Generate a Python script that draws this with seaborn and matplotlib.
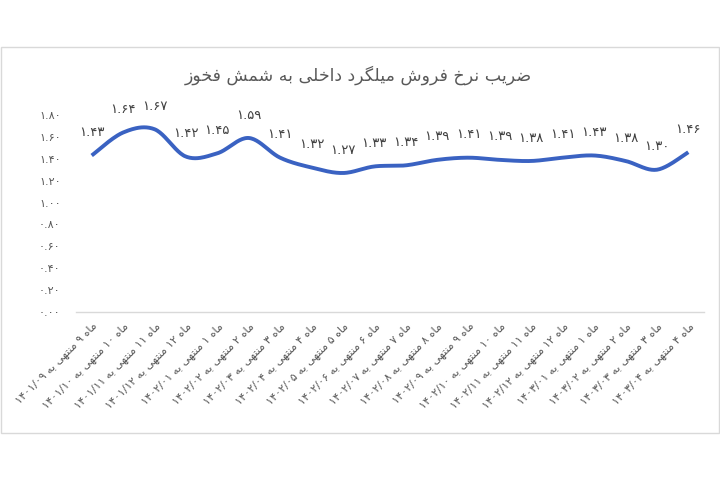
import numpy as np
import pandas as pd
import matplotlib
matplotlib.use("Agg")
import matplotlib.pyplot as plt
import seaborn as sns
from matplotlib.patches import Rectangle

# ---------------- data ----------------
title = "ضریب نرخ فروش میلگرد داخلی به شمش فخوز"
months = [9, 10, 11, 12, 1, 2, 3, 4, 5, 6, 7, 8, 9, 10, 11, 12, 1, 2, 3, 4]
dates = ["1401/09", "1401/10", "1401/11", "1401/12", "1402/01", "1402/02",
         "1402/03", "1402/04", "1402/05", "1402/06", "1402/07", "1402/08",
         "1402/09", "1402/10", "1402/11", "1402/12", "1403/01", "1403/02",
         "1403/03", "1403/04"]
values = [1.43, 1.64, 1.67, 1.42, 1.45, 1.59, 1.41, 1.32, 1.27, 1.33,
          1.34, 1.39, 1.41, 1.39, 1.38, 1.41, 1.43, 1.38, 1.30, 1.46]
yticks = [0.0, 0.2, 0.4, 0.6, 0.8, 1.0, 1.2, 1.4, 1.6, 1.8]

# ---------------- simple Persian shaping ----------------
FA_DIG = str.maketrans("0123456789", "۰۱۲۳۴۵۶۷۸۹")
FORMS = {
    '\u0627': ('\uFE8D', '\uFE8E', None, None),
    '\u0628': ('\uFE8F', '\uFE90', '\uFE91', '\uFE92'),
    '\u062A': ('\uFE95', '\uFE96', '\uFE97', '\uFE98'),
    '\u062E': ('\uFEA5', '\uFEA6', '\uFEA7', '\uFEA8'),
    '\u062F': ('\uFEA9', '\uFEAA', None, None),
    '\u0631': ('\uFEAD', '\uFEAE', None, None),
    '\u0632': ('\uFEAF', '\uFEB0', None, None),
    '\u0634': ('\uFEB5', '\uFEB6', '\uFEB7', '\uFEB8'),
    '\u0636': ('\uFEBD', '\uFEBE', '\uFEBF', '\uFEC0'),
    '\u0641': ('\uFED1', '\uFED2', '\uFED3', '\uFED4'),
    '\u0644': ('\uFEDD', '\uFEDE', '\uFEDF', '\uFEE0'),
    '\u0645': ('\uFEE1', '\uFEE2', '\uFEE3', '\uFEE4'),
    '\u0646': ('\uFEE5', '\uFEE6', '\uFEE7', '\uFEE8'),
    '\u0647': ('\uFEE9', '\uFEEA', '\uFEEB', '\uFEEC'),
    '\u0648': ('\uFEED', '\uFEEE', None, None),
    '\u06CC': ('\uFBFC', '\uFBFD', '\uFBFE', '\uFBFF'),
    '\u06AF': ('\uFB92', '\uFB93', '\uFB94', '\uFB95'),
}


def shape_word(w):
    out = []
    n = len(w)
    for i, c in enumerate(w):
        if c not in FORMS:
            out.append(c)
            continue
        iso, fin, ini, med = FORMS[c]
        prev = w[i - 1] if i > 0 else None
        nxt = w[i + 1] if i < n - 1 else None
        jp = prev in FORMS and FORMS[prev][2] is not None
        jn = nxt in FORMS and ini is not None
        if jp and jn:
            f = med
        elif jp:
            f = fin
        elif jn:
            f = ini
        else:
            f = iso
        out.append(f)
    return ''.join(reversed(out))


def fa(text):
    toks = text.split(' ')
    vis = []
    for t in toks:
        if any(ch in FORMS for ch in t):
            vis.append(shape_word(t))
        else:
            vis.append(t.translate(FA_DIG))
    return ' '.join(reversed(vis))


def fnum(v):
    return f"{v:.2f}".translate(FA_DIG)


labels = [fa(f"ماه {m} منتهی به {d}") for m, d in zip(months, dates)]

# ---------------- smooth curve (Excel-like) ----------------
x = np.arange(len(values), dtype=float)
y = np.array(values, dtype=float)
xs, ys = [], []
for i in range(len(x) - 1):
    p0 = np.array([x[i - 1] if i > 0 else x[i], y[i - 1] if i > 0 else y[i]])
    p1 = np.array([x[i], y[i]])
    p2 = np.array([x[i + 1], y[i + 1]])
    p3 = np.array([x[i + 2], y[i + 2]]) if i + 2 < len(x) else p2
    c1 = p1 + (p2 - p0) / 6.0
    c2 = p2 - (p3 - p1) / 6.0
    t = np.linspace(0, 1, 25)[:, None]
    pts = ((1 - t) ** 3) * p1 + 3 * ((1 - t) ** 2) * t * c1 + 3 * (1 - t) * t ** 2 * c2 + t ** 3 * p2
    xs.extend(pts[:, 0])
    ys.extend(pts[:, 1])
curve = pd.DataFrame({"x": xs, "y": ys})

# ---------------- plot ----------------
sns.set_theme(style="white")
plt.rcParams['font.family'] = ['DejaVu Sans']

fig = plt.figure(figsize=(7.2, 4.8), dpi=100)
ax = fig.add_axes([76 / 720, 1 - 312 / 480, (704 - 76) / 720, (312 - 115) / 480])

sns.lineplot(data=curve, x="x", y="y", sort=False, estimator=None, ax=ax,
             color="#3a62c2", linewidth=2.8, solid_capstyle="butt")

for xi, v in zip(x, values):
    ax.annotate(fnum(v), (xi, v), xytext=(0, 16.5), textcoords="offset points",
                ha="center", va="center", fontsize=9.5, color="#404040",
                annotation_clip=False)

ax.set_xlim(-0.5, len(values) - 0.5)
ax.set_ylim(0, 1.8)
ax.set_yticks(yticks)
ax.set_yticklabels([fnum(v) for v in yticks], fontsize=8, color="#595959")
ax.set_xticks(x)
ax.set_xticklabels(labels, rotation=45, ha="right", rotation_mode="anchor",
                   fontsize=8, color="#595959")
ax.tick_params(axis="y", length=0, pad=11)
ax.tick_params(axis="x", length=0, pad=6)
ax.set_xlabel("")
ax.set_ylabel("")
for s in ["top", "right", "left"]:
    ax.spines[s].set_visible(False)
ax.spines["bottom"].set_color("#d9d9d9")
ax.spines["bottom"].set_linewidth(1)
ax.grid(False)

fig.text(358 / 720, 1 - 75 / 480, fa(title), ha="center", va="center",
         fontsize=12.5, color="#595959")

fig.patches.append(Rectangle((1 / 720, 1 - 433 / 480), 718 / 720, (433 - 47) / 480,
                             transform=fig.transFigure, fill=False,
                             edgecolor="#d9d9d9", linewidth=1))

fig.savefig("out.png", dpi=100)
